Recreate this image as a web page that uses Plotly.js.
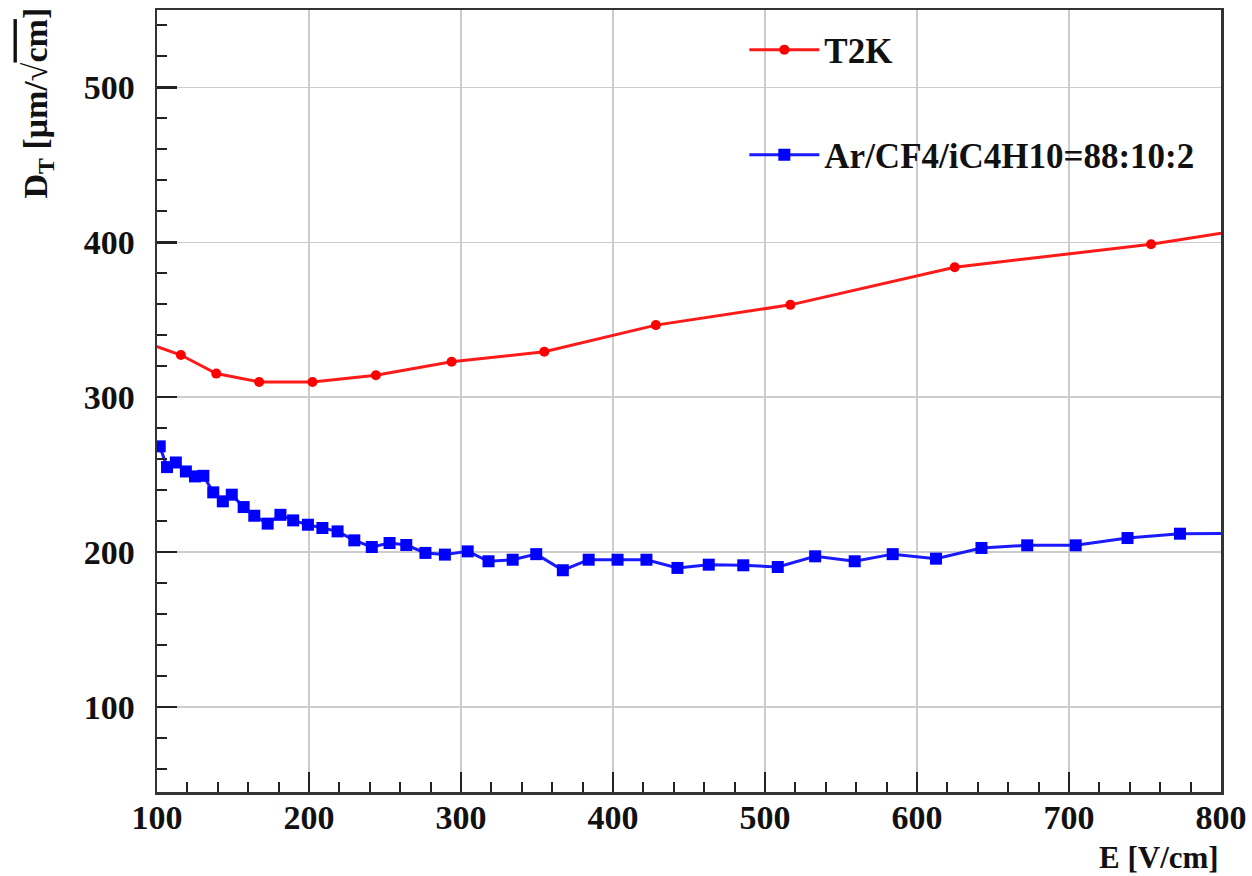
<!DOCTYPE html>
<html>
<head>
<meta charset="utf-8">
<script src="https://cdn.plot.ly/plotly-3.0.1.min.js"></script>
<style>html,body{margin:0;padding:0;background:#fff;}#chart{width:1252px;height:876px;}</style>
</head>
<body>
<div id="chart"></div>
<script>
// T2K gas (red)
const t2kE  = [90, 115.7, 139, 167.2, 202.3, 244, 293.8, 354.8, 428.2, 516.7, 624.8, 754, 850];
const t2kDT = [336, 327.2, 315.2, 309.8, 309.8, 314.1, 322.8, 329.3, 346.5, 359.6, 383.9, 398.7, 413.5];
// Ar/CF4/iC4H10 = 88:10:2 (blue)
const arE  = [101.8, 106.6, 112.4, 119, 125, 130.5, 137, 143.3, 149.2, 157, 164, 172.8, 181.2, 189.6, 199.3,
              208.8, 218.8, 229.8, 241.3, 253, 264, 276.6, 289.4, 304.4, 318.1, 334, 349.5, 367, 384, 403,
              422, 442.4, 463, 485.7, 508.4, 533, 559, 584, 612.5, 642.4, 672.5, 704.4, 738.5, 773, 820];
const arDT = [268.2, 254.8, 257.8, 252, 248.8, 249.2, 238.5, 232.7, 237, 229, 223.4, 218.3, 224, 220.4, 217.6,
              215.5, 213.3, 207.5, 203.2, 205.8, 204.5, 199.4, 198.3, 200.4, 194, 195, 198.6, 188.2, 195, 195,
              195, 189.7, 191.8, 191.4, 190.3, 197.2, 194, 198.6, 195.7, 202.6, 204.3, 204.3, 209, 211.8, 212];
const xTicks = [100, 200, 300, 400, 500, 600, 700, 800];
const yTicks = [100, 200, 300, 400, 500];
const seriesNames = ["T2K", "Ar/CF4/iC4H10=88:10:2"];
const xTitle = "E [V/cm]";
const yTitle = "D<sub>T</sub> [μm/√<span style=\"text-decoration:overline\">cm</span>]";

const FONT = "Liberation Serif, Times New Roman, serif";

const traces = [
  {x: t2kE, y: t2kDT, name: seriesNames[0], type: "scatter", mode: "lines+markers",
   line: {color: "#ff1a1a", width: 3}, marker: {color: "#ff0000", size: 10, symbol: "circle"},
   legend: "legend"},
  {x: arE, y: arDT, name: seriesNames[1], type: "scatter", mode: "lines+markers",
   line: {color: "#1a1aff", width: 3}, marker: {color: "#0000ff", size: 12, symbol: "square"},
   legend: "legend2"}
];

const axisCommon = {
  showline: true, linecolor: "#333", linewidth: 2.5, mirror: true,
  ticks: "inside", ticklen: 20, tickwidth: 2.5, tickcolor: "#222",
  showgrid: true, gridcolor: "#cccccc", gridwidth: 1.5,
  zeroline: false,
  tickfont: {family: FONT, size: 34, color: "#111", weight: "bold"},
};

const layout = {
  width: 1252, height: 876,
  margin: {l: 157, r: 31, t: 10, b: 84},
  paper_bgcolor: "#fff", plot_bgcolor: "#fff",
  showlegend: true,
  xaxis: Object.assign({}, axisCommon, {
    range: [100, 800], tickmode: "array", tickvals: xTicks, ticktext: xTicks.map(String),
    minor: {dtick: 20, tick0: 100, ticks: "inside", ticklen: 10, tickwidth: 2, tickcolor: "#222", showgrid: false},
    ticklabelstandoff: -6
  }),
  yaxis: Object.assign({}, axisCommon, {
    range: [45, 550], tickmode: "array", tickvals: yTicks, ticktext: yTicks.map(String),
    minor: {dtick: 20, tick0: 100, ticks: "inside", ticklen: 10, tickwidth: 2, tickcolor: "#222", showgrid: false},
    ticklabelstandoff: 13
  }),
  legend: {x: 0.552, y: 0.949, xanchor: "left", yanchor: "middle", bgcolor: "rgba(0,0,0,0)",
           font: {family: FONT, size: 35, color: "#111", weight: "bold"}, itemwidth: 70},
  legend2: {x: 0.552, y: 0.8146, xanchor: "left", yanchor: "middle", bgcolor: "rgba(0,0,0,0)",
           font: {family: FONT, size: 35, color: "#111", weight: "bold"}, itemwidth: 70},
  annotations: [
    {text: xTitle, xref: "paper", yref: "paper", x: 1, y: 0, xanchor: "right", yanchor: "middle",
     yshift: -65, showarrow: false, font: {family: FONT, size: 31, color: "#111", weight: "bold"}},
    {text: yTitle, xref: "paper", yref: "paper", x: 0, y: 1, xanchor: "center", yanchor: "top",
     xshift: -120, yshift: 4, textangle: -90, showarrow: false, font: {family: FONT, size: 34, color: "#111", weight: "bold"}}
  ]
};

Plotly.newPlot("chart", traces, layout, {displayModeBar: false, staticPlot: true});
</script>
</body>
</html>
